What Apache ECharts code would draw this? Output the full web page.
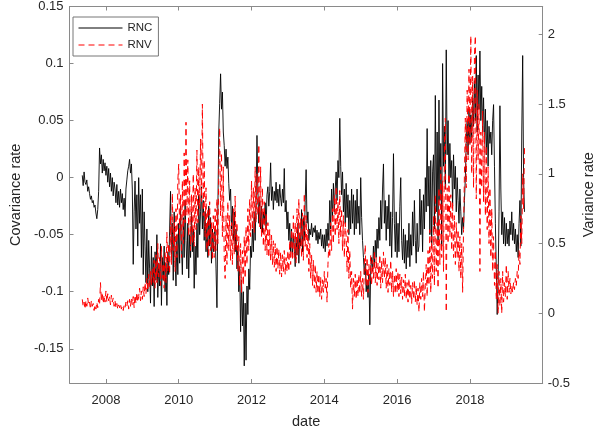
<!DOCTYPE html>
<html>
<head>
<meta charset="utf-8">
<script src="https://cdn.jsdelivr.net/npm/echarts@6/dist/echarts.min.js"></script>
<style>
html, body { margin: 0; padding: 0; background: #fff; }
#main { width: 604px; height: 434px; }
</style>
</head>
<body>
<div id="main"></div>
<script>
// samples start at 2007.35, one every 0.025 year
var startYear = 2007.35;
var stepYear = 0.025;

// RNC, covariance rate (left axis), one row per year
var rnc = [
    0.002, -0.007, 0.005, -0.004, -0.006, -0.002, -0.012, -0.008, -0.014, -0.019, -0.016, -0.022, -0.020, -0.026, -0.024, -0.031, -0.036, -0.028, -0.012, 0.026, 0.012, 0.020, 0.004, 0.016, 0.006, 0.013,
    0.002, 0.010, -0.004, 0.008, -0.008, 0.004, -0.012, 0.000, -0.016, -0.004, -0.010, -0.022, -0.006, -0.024, -0.012, -0.026, -0.010, -0.022, -0.014, -0.028, -0.018, -0.034, -0.010, -0.002, 0.006, 0.010, 0.016, 0.004, 0.012, -0.010, -0.076, -0.030, -0.003, -0.045, -0.015, -0.060, 0.000, -0.040, -0.015, -0.070,
    -0.010, -0.085, -0.030, -0.060, -0.092, -0.045, -0.100, -0.055, -0.080, -0.110, -0.060, -0.095, -0.070, -0.113, -0.065, -0.090, -0.050, -0.105, -0.075, -0.095, -0.058, -0.112, -0.070, -0.090, -0.060, -0.100, -0.075, -0.112, -0.065, -0.085, -0.045, -0.012, -0.070, -0.040, -0.090, -0.030, -0.070, -0.095, -0.050, -0.085,
    -0.040, -0.075, -0.025, -0.060, -0.085, -0.035, -0.070, -0.020, -0.055, -0.080, -0.040, -0.088, -0.050, -0.070, -0.030, -0.065, -0.045, -0.097, -0.060, -0.085, -0.040, -0.070, -0.015, -0.050, -0.030, -0.008, -0.045, -0.020, -0.055, -0.030, -0.065, -0.040, -0.070, -0.025, -0.060, -0.035, -0.075, -0.045, -0.065, -0.050,
    -0.045, -0.080, -0.114, -0.030, 0.040, 0.065, 0.091, 0.060, 0.075, 0.040, 0.028, 0.010, 0.025, 0.008, 0.018, -0.005, -0.020, -0.010, -0.045, -0.025, -0.055, -0.030, -0.065, -0.045, -0.080, -0.060, -0.100, -0.078, -0.135, -0.090, -0.130, -0.100, -0.165, -0.110, -0.160, -0.095, -0.120, -0.080, -0.098, -0.060,
    -0.070, -0.045, -0.065, -0.030, -0.055, -0.020, 0.037, -0.010, -0.040, -0.020, -0.045, -0.025, -0.048, -0.030, -0.040, -0.022, -0.045, -0.015, -0.008, -0.025, -0.012, 0.013, -0.020, -0.008, -0.028, -0.012, -0.020, -0.004, -0.022, -0.010, -0.025, -0.006, -0.018, -0.025, -0.010, -0.022, 0.008, -0.030, -0.020, -0.045,
    -0.030, -0.055, -0.040, -0.065, -0.045, -0.070, -0.050, -0.060, -0.078, -0.052, -0.068, -0.040, -0.075, -0.050, -0.060, -0.028, -0.065, -0.035, -0.055, -0.020, 0.007, -0.040, -0.030, -0.055, -0.045, -0.050, -0.040, -0.052, -0.044, -0.048, -0.042, -0.055, -0.046, -0.058, -0.048, -0.054, -0.045, -0.060, -0.050, -0.062,
    -0.050, -0.065, -0.045, -0.060, -0.040, -0.055, -0.020, -0.045, -0.010, -0.035, -0.005, -0.030, -0.010, 0.005, -0.020, 0.015, 0.000, 0.052, 0.010, -0.015, 0.005, -0.030, -0.010, -0.040, -0.005, -0.035, -0.015, -0.050, -0.020, -0.045, -0.010, -0.040, -0.015, -0.050, -0.020, -0.045, -0.010, -0.040, -0.025, -0.050,
    0.000, -0.035, -0.055, -0.070, -0.085, -0.075, -0.100, -0.090, -0.105, -0.085, -0.129, -0.080, -0.070, -0.082, -0.060, -0.078, -0.055, -0.070, -0.045, -0.062, -0.035, -0.055, -0.020, -0.045, -0.010, 0.012, -0.040, -0.020, -0.055, -0.025, -0.045, -0.015, -0.060, -0.030, -0.070, -0.035, 0.021, -0.040, -0.065, -0.030,
    -0.070, -0.040, -0.065, -0.025, 0.000, -0.055, -0.072, -0.045, -0.075, -0.050, -0.080, -0.055, -0.070, -0.040, -0.078, -0.050, -0.068, -0.030, -0.060, -0.020, -0.055, -0.075, -0.040, -0.065, -0.060, -0.010, -0.050, -0.020, -0.065, -0.015, -0.045, 0.000, -0.030, 0.043, -0.025, 0.010, -0.050, 0.015, -0.060, 0.005,
    0.020, -0.045, 0.072, -0.030, 0.040, -0.055, 0.068, -0.020, 0.030, -0.060, 0.100, 0.010, 0.045, -0.010, 0.112, 0.020, 0.050, -0.005, 0.030, 0.000, 0.015, -0.025, 0.020, -0.010, 0.010, -0.030, 0.000, -0.020, -0.040, -0.010, -0.030, -0.050, -0.035, -0.045, -0.020, 0.000, 0.030, 0.050, 0.020, 0.060,
    0.030, 0.055, 0.035, 0.070, 0.045, 0.085, 0.050, 0.107, 0.040, 0.090, 0.060, 0.111, 0.050, 0.080, 0.040, 0.070, 0.030, 0.060, 0.020, 0.050, 0.010, 0.045, 0.030, 0.040, 0.020, 0.050, 0.064, 0.010, -0.040, -0.080, -0.120, -0.090, -0.030, 0.063, -0.010, -0.050, -0.030, -0.058, -0.035, -0.060,
    -0.040, -0.058, -0.045, -0.060, -0.038, -0.050, -0.030, -0.055, -0.040, -0.058, -0.045, -0.065, -0.050, -0.070, -0.040, -0.020, -0.060, 0.040, 0.107, 0.000, -0.030
];

// RNV, variance rate (right axis), one row per year
var rnv = [
    0.10, 0.05, 0.08, 0.03, 0.09, 0.05, 0.11, 0.06, 0.08, 0.03, 0.09, 0.05, 0.07, 0.02, 0.06, 0.03, 0.08, 0.04, 0.10, 0.06, 0.22, 0.09, 0.15, 0.07, 0.13, 0.08,
    0.16, 0.08, 0.14, 0.09, 0.12, 0.06, 0.13, 0.08, 0.11, 0.05, 0.09, 0.04, 0.07, 0.03, 0.06, 0.04, 0.07, 0.03, 0.05, 0.02, 0.06, 0.04, 0.08, 0.05, 0.09, 0.03, 0.10, 0.05, 0.11, 0.06, 0.12, 0.04, 0.13, 0.07, 0.15, 0.08, 0.12, 0.18, 0.09, 0.16,
    0.10, 0.19, 0.12, 0.22, 0.14, 0.25, 0.16, 0.28, 0.18, 0.30, 0.20, 0.32, 0.22, 0.38, 0.18, 0.42, 0.22, 0.50, 0.26, 0.40, 0.20, 0.48, 0.25, 0.36, 0.18, 0.44, 0.22, 0.58, 0.30, 0.50, 0.28, 0.70, 0.35, 0.86, 0.45, 0.65, 0.30, 0.75, 0.40, 0.95,
    1.07, 0.55, 0.85, 0.40, 0.95, 0.50, 1.15, 0.65, 1.37, 0.70, 1.10, 0.55, 0.95, 0.45, 0.85, 0.50, 1.00, 0.48, 0.90, 0.60, 1.17, 0.65, 1.05, 0.75, 1.25, 0.80, 1.50, 0.70, 1.10, 0.55, 0.90, 0.45, 0.75, 0.40, 0.80, 0.45, 0.65, 0.38, 0.70, 0.40,
    0.75, 0.45, 0.82, 0.50, 1.00, 1.33, 0.70, 1.15, 0.55, 1.05, 0.40, 0.25, 0.70, 0.35, 0.80, 0.45, 0.70, 0.38, 0.65, 0.35, 0.75, 0.42, 0.84, 0.45, 0.65, 0.30, 0.55, 0.20, 0.50, 0.15, 0.45, 0.20, 0.55, 0.25, 0.62, 0.35, 0.75, 0.45, 0.82, 0.55,
    0.95, 0.60, 0.90, 0.58, 1.05, 0.65, 1.00, 0.70, 1.21, 0.62, 1.05, 0.55, 0.90, 0.48, 0.80, 0.45, 0.72, 0.42, 0.65, 0.40, 0.60, 0.38, 0.56, 0.35, 0.52, 0.33, 0.50, 0.30, 0.48, 0.32, 0.46, 0.28, 0.44, 0.26, 0.42, 0.30, 0.45, 0.28, 0.40, 0.30,
    0.45, 0.30, 0.52, 0.35, 0.60, 0.38, 0.70, 0.40, 0.65, 0.36, 0.75, 0.42, 0.82, 0.45, 0.68, 0.40, 0.72, 0.38, 0.86, 0.48, 0.70, 0.40, 0.60, 0.30, 0.50, 0.25, 0.42, 0.20, 0.38, 0.18, 0.35, 0.15, 0.30, 0.14, 0.28, 0.12, 0.26, 0.10, 0.24, 0.15,
    0.30, 0.18, 0.25, 0.08, 0.35, 0.50, 0.40, 0.65, 0.45, 0.75, 0.50, 0.85, 0.55, 0.91, 0.60, 0.80, 0.50, 0.88, 0.55, 0.75, 0.45, 0.70, 0.40, 0.65, 0.55, 0.30, 0.60, 0.25, 0.45, 0.18, 0.30, 0.03, 0.25, 0.12, 0.28, 0.10, 0.25, 0.12, 0.28, 0.14,
    0.30, 0.12, 0.25, 0.10, 0.35, 0.49, 0.20, 0.40, 0.15, 0.35, 0.22, 0.42, 0.20, 0.38, 0.25, 0.45, 0.22, 0.40, 0.20, 0.36, 0.24, 0.42, 0.18, 0.38, 0.22, 0.44, 0.25, 0.40, 0.18, 0.35, 0.15, 0.32, 0.20, 0.38, 0.15, 0.30, 0.12, 0.28, 0.14, 0.32,
    0.15, 0.30, 0.12, 0.28, 0.14, 0.26, 0.10, 0.24, 0.12, 0.28, 0.10, 0.22, 0.08, 0.25, 0.10, 0.20, 0.07, 0.22, 0.10, 0.24, 0.08, 0.20, 0.06, 0.18, 0.01, 0.22, 0.10, 0.25, 0.12, 0.30, 0.01, 0.20, 0.35, 0.12, 0.45, 0.20, 0.60, 0.15, 0.55, 0.25,
    0.70, 0.20, 0.85, 0.30, 0.65, 0.18, 0.90, 0.35, 1.05, 0.40, 0.95, 0.30, 1.20, 1.40, 0.01, 0.90, 0.50, 1.00, 0.55, 0.85, 0.45, 0.80, 0.40, 0.70, 0.35, 0.65, 0.40, 0.60, 0.30, 0.55, 0.25, 0.50, 0.15, 0.60, 1.00, 1.40, 0.90, 1.60, 1.10, 1.75,
    1.20, 1.99, 1.00, 1.70, 0.90, 1.85, 1.99, 0.82, 1.60, 1.10, 1.50, 0.30, 1.30, 0.90, 1.45, 0.80, 1.30, 0.70, 1.20, 0.60, 1.05, 0.50, 0.90, 0.40, 0.75, 0.30, 0.55, 0.20, 0.45, 0.10, 0.35, 0.00, 0.30, 0.05, 0.25, 0.00, 0.30, 0.08, 0.22, 0.12,
    0.35, 0.10, 0.30, 0.15, 0.25, 0.14, 0.20, 0.15, 0.22, 0.17, 0.25, 0.20, 0.30, 0.25, 0.45, 0.35, 0.70, 0.50, 1.00, 0.75, 1.19
];

var xTicks = [2008, 2010, 2012, 2014, 2016, 2018];
var leftTicks = [-0.15, -0.1, -0.05, 0, 0.05, 0.1, 0.15];
var rightTicks = [-0.5, 0, 0.5, 1, 1.5, 2];

function toPairs(vals) {
    var out = [];
    for (var i = 0; i < vals.length; i++) {
        out.push([+(startYear + i * stepYear).toFixed(3), vals[i]]);
    }
    return out;
}

var axisColor = '#8a8a8a';
var textColor = '#262626';
var font = 'Liberation Sans, Arial, sans-serif';

var option = {
    animation: false,
    backgroundColor: '#fff',
    textStyle: { fontFamily: font },
    grid: { left: 58, right: 57, top: 2, bottom: 46 },
    legend: {
        orient: 'vertical',
        left: 73,
        top: 17,
        padding: [5, 6, 5, 5],
        itemWidth: 44,
        itemHeight: 11,
        itemGap: 5,
        backgroundColor: '#fff',
        borderColor: '#777',
        borderWidth: 1,
        itemStyle: { opacity: 0 },
        lineStyle: { width: 1 },
        textStyle: { fontSize: 11.5, color: textColor, fontFamily: font },
        data: ['RNC', 'RNV']
    },
    xAxis: [{
        type: 'value',
        min: 2007,
        max: 2020,
        name: 'date',
        nameLocation: 'middle',
        nameGap: 31,
        nameTextStyle: { fontSize: 14.5, color: textColor },
        axisLine: { onZero: false, lineStyle: { color: axisColor } },
        axisTick: { inside: true, length: 4, customValues: xTicks, lineStyle: { color: axisColor } },
        axisLabel: {
            customValues: xTicks, fontSize: 13, color: textColor, margin: 11,
            formatter: function (v) { return String(v); }
        },
        splitLine: { show: false }
    }, {
        type: 'value',
        position: 'top',
        min: 2007,
        max: 2020,
        axisLine: { show: true, onZero: false, lineStyle: { color: axisColor } },
        axisTick: { inside: true, length: 4, customValues: xTicks, lineStyle: { color: axisColor } },
        axisLabel: { show: false },
        splitLine: { show: false }
    }],
    yAxis: [{
        type: 'value',
        min: -0.18,
        max: 0.15,
        name: 'Covariance rate',
        nameLocation: 'middle',
        nameRotate: 90,
        nameGap: 40,
        nameTextStyle: { fontSize: 14.5, color: textColor },
        axisLine: { show: true, onZero: false, lineStyle: { color: axisColor } },
        axisTick: { show: true, inside: true, length: 4, customValues: leftTicks, lineStyle: { color: axisColor } },
        axisLabel: { customValues: leftTicks, fontSize: 13, color: textColor, margin: 6 },
        splitLine: { show: false }
    }, {
        type: 'value',
        position: 'right',
        min: -0.5,
        max: 2.2,
        name: 'Variance rate',
        nameLocation: 'middle',
        nameRotate: 90,
        nameGap: 37,
        nameTextStyle: { fontSize: 14.5, color: textColor },
        axisLine: { show: true, onZero: false, lineStyle: { color: axisColor } },
        axisTick: { show: true, inside: true, length: 4, customValues: rightTicks, lineStyle: { color: axisColor } },
        axisLabel: { customValues: rightTicks, fontSize: 13, color: textColor, margin: 5 },
        splitLine: { show: false }
    }],
    series: [{
        name: 'RNC',
        type: 'line',
        xAxisIndex: 0,
        yAxisIndex: 0,
        symbol: 'none',
        lineStyle: { color: '#000', width: 0.9 },
        itemStyle: { color: '#000' },
        data: toPairs(rnc)
    }, {
        name: 'RNV',
        type: 'line',
        xAxisIndex: 0,
        yAxisIndex: 1,
        symbol: 'none',
        lineStyle: { color: '#ff0000', width: 1, type: [6, 4] },
        itemStyle: { color: '#ff0000' },
        data: toPairs(rnv)
    }]
};

var chart = echarts.init(document.getElementById('main'));
chart.setOption(option);
</script>
</body>
</html>
